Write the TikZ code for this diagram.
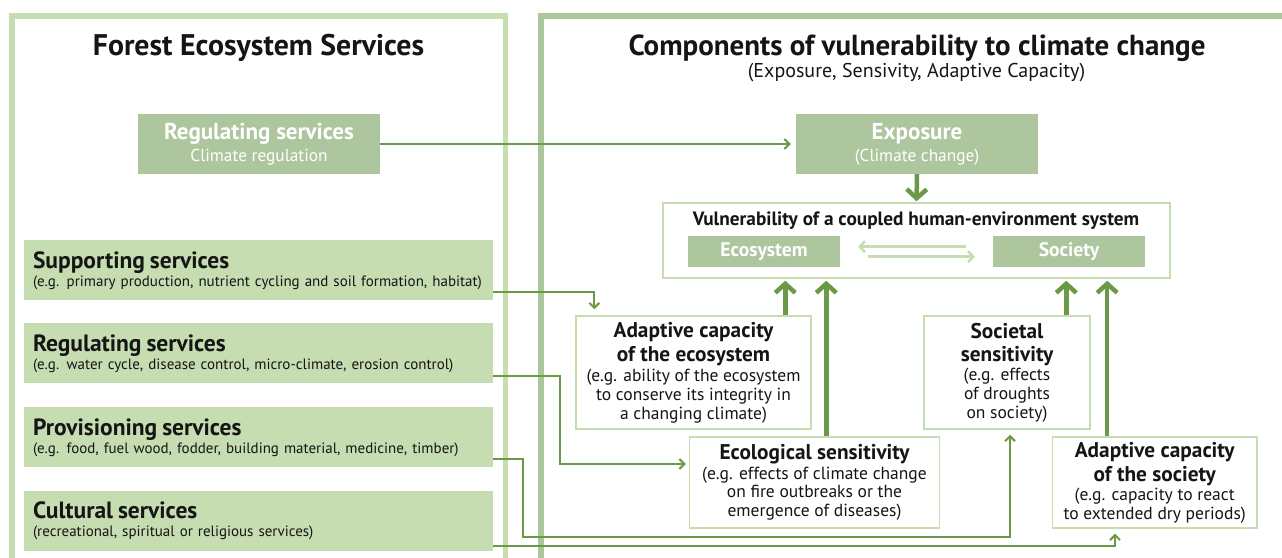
\documentclass[tikz,border=0pt]{standalone}
\usepackage{fontspec}
\setmainfont{PT Sans}
\usetikzlibrary{arrows.meta,calc}
\definecolor{lg}{HTML}{C5DDB0}
\definecolor{mg}{HTML}{ADC69E}
\definecolor{dg}{HTML}{6A9948}
\definecolor{tx}{HTML}{151515}
\newcommand\hdfont{\fontsize{21.3}{23}\selectfont\bfseries}
\newcommand\dtfont{\fontsize{17.5}{18.7}\selectfont\mdseries}
\tikzset{
  darkbox/.style={fill=mg, text=white, inner sep=0pt, align=center},
  lightbox/.style={fill=lg, text=tx, inner sep=0pt, inner xsep=9pt, align=left, text width=451pt, minimum width=469pt, minimum height=60pt},
  whitebox/.style={draw=lg, line width=1.5pt, fill=white, text=tx, inner sep=0pt, align=center, font=\dtfont},
  conn/.style={draw=dg, line width=2pt, -{Straight Barb[length=5pt,width=10pt]}},
  thick arr/.style={draw=dg, line width=4.5pt, -{Straight Barb[length=9pt,width=20pt]}},
  light arr/.style={draw=lg, line width=2.5pt, -{Straight Barb[length=5pt,width=11pt]}},
  panel/.style={line width=5.5pt},
}
\begin{document}
\begin{tikzpicture}[x=1pt,y=-1pt]
\useasboundingbox (0,0) rectangle (1282,557);
% panels
\draw[panel, draw=lg] (11.9,565) -- (11.9,16.2) -- (505.5,16.2) -- (505.5,565);
\draw[panel, draw=mg] (541,565) -- (541,16.2) -- (1290,16.2);
% titles
\node[anchor=base, text=tx, font=\fontsize{29.8}{32}\selectfont\bfseries] (t1) at (258.5,55) {Forest Ecosystem Services};
\node[anchor=base, text=tx, font=\fontsize{29}{32}\selectfont\bfseries] (t2) at (917,55) {Components of vulnerability to climate change};
\node[anchor=base, text=tx, font=\fontsize{20}{22}\selectfont] (t3) at (916.5,77) {(Exposure, Sensivity, Adaptive Capacity)};
% top boxes
\node[darkbox, minimum width=242pt, minimum height=60pt, font=\fontsize{17.3}{22}\selectfont] (regT) at (259,144)
  {{\fontsize{23}{22}\selectfont\bfseries Regulating services}\\Climate regulation};
\node[darkbox, minimum width=242pt, minimum height=60pt, font=\fontsize{17.3}{22}\selectfont] (expo) at (917,144)
  {{\fontsize{23}{22}\selectfont\bfseries Exposure}\\(Climate change)};
% vulnerability box
\node[draw=lg, line width=1.5pt, minimum width=507pt, minimum height=75pt, inner sep=0pt] (vul) at (916.5,240.5) {};
\node[anchor=base, text=tx, font=\fontsize{19.3}{22}\selectfont\bfseries] (vulT) at (916,225) {Vulnerability of a coupled human-environment system};
\node[darkbox, minimum width=152pt, minimum height=31pt, font=\fontsize{19.6}{20}\selectfont\bfseries] (eco) at (764,251.5) {Ecosystem};
\node[darkbox, minimum width=152pt, minimum height=31pt, font=\fontsize{19.6}{20}\selectfont\bfseries] (soc) at (1069,251.5) {Society};
% left boxes
\node[lightbox, font=\fontsize{15}{18}\selectfont] (sup) at (258.5,270.4)
  {{\fontsize{23.5}{18}\selectfont\bfseries Supporting services}\\(e.g. primary production, nutrient cycling and soil formation, habitat)};
\node[lightbox, font=\fontsize{15}{18}\selectfont] (reg) at (258.5,353.4)
  {{\fontsize{23.5}{18}\selectfont\bfseries Regulating services}\\(e.g. water cycle, disease control, micro-climate, erosion control)};
\node[lightbox, font=\fontsize{15}{18}\selectfont] (prov) at (258.5,437.4)
  {{\fontsize{23.5}{18}\selectfont\bfseries Provisioning services}\\(e.g. food, fuel wood, fodder, building material, medicine, timber)};
\node[lightbox, font=\fontsize{15}{18}\selectfont] (cult) at (258.5,520.7)
  {{\fontsize{23.5}{18}\selectfont\bfseries Cultural services}\\(recreational, spiritual or religious services)};
% component boxes
\node[whitebox, minimum width=235pt, minimum height=113pt] (adE) at (693.5,372.5)
  {\hdfont Adaptive capacity\\[4.3pt]\hdfont of the ecosystem\\[1.3pt]\dtfont (e.g. ability of the ecosystem\\\dtfont to conserve its integrity in\\\dtfont a changing climate)};
\node[whitebox, minimum width=250pt, minimum height=91pt] (ecoS) at (814.5,482.4)
  {\hdfont Ecological sensitivity\\[1pt]\dtfont (e.g. effects of climate change\\\dtfont on fire outbreaks or the\\\dtfont emergence of diseases)};
\node[whitebox, minimum width=166pt, minimum height=113pt] (socS) at (1007,372.5)
  {\hdfont Societal\\[4.3pt]\hdfont sensitivity\\[1pt]\dtfont (e.g. effects\\\dtfont of droughts\\\dtfont on society)};
\node[whitebox, minimum width=204.5pt, minimum height=91pt] (adS) at (1154.7,482.4)
  {\hdfont Adaptive capacity\\[4pt]\hdfont of the society\\\dtfont (e.g. capacity to react\\\dtfont to extended dry periods)};
% connectors
\draw[conn, shorten >=5pt] (regT.east) -- (expo.west);
\draw[thick arr, shorten >=1pt] (expo.south) -- (vul.north);
\draw[light arr] ($(soc.west)+(-27,-4.8)$) -- ($(eco.east)+(18,-4.8)$);
\draw[light arr] ($(eco.east)+(28,5.2)$) -- ($(soc.west)+(-18,5.2)$);
\coordinate (a1) at ($(adE.north west)+(210,0)$);
\coordinate (a2) at ($(ecoS.north west)+(137.5,0)$);
\coordinate (a3) at ($(socS.north west)+(143,0)$);
\coordinate (a4) at ($(adS.north west)+(55.5,0)$);
\draw[thick arr, shorten >=2pt] (a1) -- (a1 |- vul.south);
\draw[thick arr, shorten >=2pt] (a2) -- (a2 |- vul.south);
\draw[thick arr, shorten >=2pt] (a3) -- (a3 |- vul.south);
\draw[thick arr, shorten >=2pt] (a4) -- (a4 |- vul.south);
\draw[conn, shorten >=6pt] ($(sup.east)+(0,21.5)$) -| ($(adE.north west)+(19,0)$);
\draw[conn, shorten >=3pt] ($(reg.east)+(0,22.3)$) -- ++(67,0) |- ($(ecoS.west)+(0,-18.4)$);
\draw[conn, shorten >=5pt] ($(prov.east)+(0,21.6)$) -- ++(30,0) -- ++(0,77.7) -| ($(socS.south)+(3,0)$);
\draw[conn, shorten >=5pt] ($(cult.east)+(0,24.8)$) -| ($(adS.south)+(-39.7,0)$);
\end{tikzpicture}
\end{document}
